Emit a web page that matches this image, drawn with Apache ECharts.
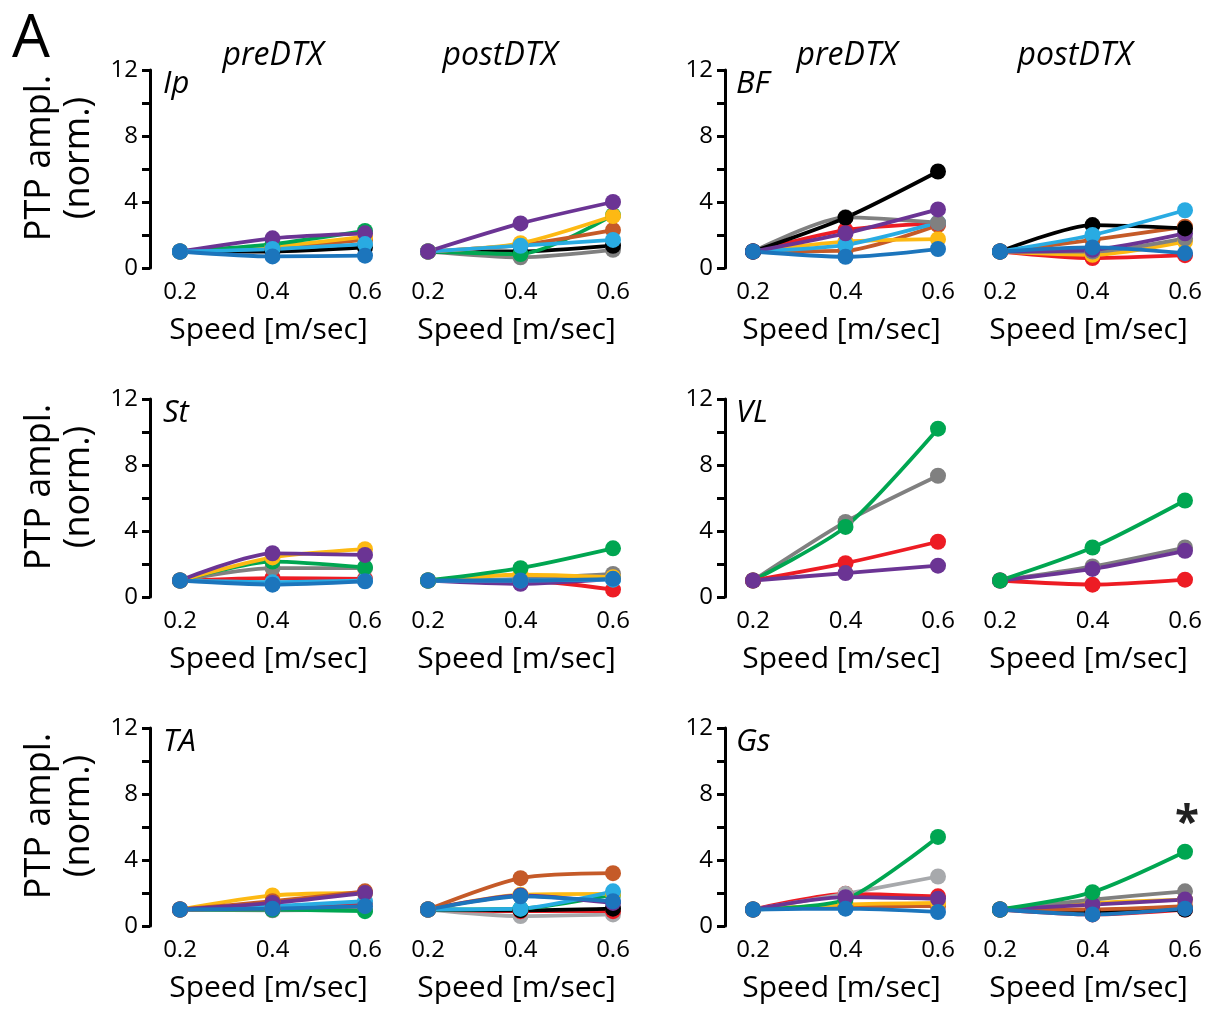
<!DOCTYPE html>
<html><head><meta charset="utf-8">
<script src="https://cdn.jsdelivr.net/npm/echarts@6/dist/echarts.min.js"></script>
<style>html,body{margin:0;padding:0;background:#fff}#c{width:1212px;height:1009px}</style>
</head><body><div id="c"></div>
<script>
// ---------- DATA ----------
const speedTicks = ['0.2', '0.4', '0.6'];
const yTicks = [0, 4, 8, 12];
const muscles = ['Ip', 'BF', 'St', 'VL', 'TA', 'Gs'];
const conditions = ['preDTX', 'postDTX'];
// each entry: [animal, values at 0.2/0.4/0.6 m/s] (listed in drawing order)
const ipPre = [['black',[1,1.0,1.25]],['orange',[1,1.2,1.7]],['yellow',[1,1.3,1.9]],['green',[1,1.45,2.25]],['purple',[1,1.8,2.1]],['lightblue',[1,1.15,1.45]],['darkblue',[1,0.7,0.75]]];
const ipPost = [['gray',[1,0.65,1.1]],['black',[1,1.0,1.35]],['green',[1,0.85,3.2]],['orange',[1,1.4,2.3]],['yellow',[1,1.5,3.15]],['lightblue',[1,1.35,1.7]],['purple',[1,2.7,4.0]]];
const bfPre = [['orange',[1,1.05,2.6]],['yellow',[1,1.6,1.75]],['red',[1,2.3,2.7]],['lightblue',[1,1.4,2.75]],['gray',[1,3.07,2.75]],['black',[1,3.05,5.85]],['purple',[1,2.1,3.55]],['darkblue',[1,0.68,1.15]]];
const bfPost = [['red',[1,0.6,0.78]],['yellow',[1,0.8,1.6]],['gray',[1,1.0,1.8]],['orange',[1,1.7,2.5]],['purple',[1,1.1,2.1]],['black',[1,2.6,2.4]],['lightblue',[1,2.0,3.5]],['darkblue',[1,1.25,0.9]]];
const stPre = [['red',[1,1.15,1.1]],['gray',[1,1.75,1.75]],['lightblue',[1,0.9,1.0]],['green',[1,2.15,1.8]],['yellow',[1,2.4,2.9]],['purple',[1,2.65,2.55]],['darkblue',[1,0.75,0.95]]];
const stPost = [['red',[1,1.0,0.45]],['purple',[1,0.8,1.1]],['gray',[1,1.1,1.4]],['lightblue',[1,1.0,1.05]],['yellow',[1,1.35,1.2]],['green',[1,1.75,2.95]],['darkblue',[1,1.0,1.1]]];
const vlPre = [['gray',[1,4.55,7.35]],['green',[1,4.25,10.2]],['red',[1,2.05,3.35]],['purple',[1,1.45,1.9]]];
const vlPost = [['red',[1,0.75,1.05]],['gray',[1,1.85,3.0]],['purple',[1,1.7,2.8]],['green',[1,3.0,5.85]]];
const taPre = [['gray',[1,0.95,1.0]],['green',[1,1.0,0.9]],['red',[1,1.1,1.4]],['lightblue',[1,1.2,1.5]],['yellow',[1,1.85,2.0]],['orange',[1,1.5,2.1]],['purple',[1,1.4,2.0]],['darkblue',[1,1.05,1.2]]];
const taPost = [['lightgray',[1,0.6,0.7]],['red',[1,0.9,0.9]],['black',[1,0.95,1.05]],['green',[1,1.05,1.9]],['yellow',[1,1.9,1.95]],['purple',[1,1.85,1.4]],['lightblue',[1,1.05,2.1]],['orange',[1,2.9,3.2]],['darkblue',[1,1.8,1.5]]];
const gsPre = [['orange',[1,1.2,1.2]],['yellow',[1,1.3,1.4]],['red',[1,1.95,1.8]],['lightgray',[1,1.95,3.0]],['green',[1,1.6,5.4]],['purple',[1,1.75,1.65]],['darkblue',[1,1.05,0.85]]];
const gsPost = [['red',[1,0.7,1.0]],['black',[1,0.9,1.0]],['orange',[1,1.0,1.2]],['yellow',[1,1.4,1.6]],['gray',[1,1.6,2.1]],['purple',[1,1.3,1.6]],['green',[1,2.05,4.5]],['darkblue',[1,0.7,1.05]]];

// ---------- STYLE / LAYOUT ----------
const COLORS = {black:'#000000', gray:'#808080', lightgray:'#a7a9ac', red:'#ed1c24', orange:'#c55a28',
  yellow:'#fdb913', green:'#00a651', lightblue:'#29abe2', darkblue:'#1c75bc', purple:'#6b3494'};
const FONT = '"Open Sans", "Liberation Sans", sans-serif';
const panelData = [[ipPre, ipPost], [bfPre, bfPost], [stPre, stPost], [vlPre, vlPost], [taPre, taPost], [gsPre, gsPost]];
const colX = [[180, 428], [753, 1000]];
const colW = [185, 185];
const axisOffset = [30, 28];
const rowTop = [70, 399, 728];
const rowH = 198;

const grids = [], xAxes = [], yAxes = [], series = [], graphic = [];
panelData.forEach((pair, p) => {
  const row = Math.floor(p / 2), col = p % 2;
  pair.forEach((lines, k) => {
    const gi = grids.length;
    grids.push({left: colX[col][k], top: rowTop[row], width: colW[col], height: rowH, outerBoundsMode: 'none', containLabel: false});
    xAxes.push({type: 'category', gridIndex: gi, data: speedTicks, boundaryGap: false,
      axisLine: {show: false}, axisTick: {show: false}, splitLine: {show: false},
      axisLabel: {fontSize: 24, color: '#000', fontFamily: FONT, margin: 12, interval: 0},
      name: 'Speed [m/sec]', nameLocation: 'middle', nameGap: 47,
      nameTextStyle: {fontSize: 30, color: '#000', fontFamily: FONT, padding: [0, 8, 0, 0]}});
    yAxes.push({type: 'value', gridIndex: gi, min: yTicks[0], max: yTicks[yTicks.length - 1], interval: 4,
      show: k === 0, offset: axisOffset[col],
      axisLine: {show: true, lineStyle: {color: '#000', width: 3}},
      axisTick: {show: true, length: 8, lineStyle: {width: 3, color: '#000'}},
      minorTick: {show: true, splitNumber: 2, length: 8, lineStyle: {width: 3, color: '#000'}},
      splitLine: {show: false}, minorSplitLine: {show: false},
      axisLabel: {fontSize: 24, color: '#000', fontFamily: FONT, margin: 12}});
    lines.forEach(([animal, vals]) => {
      series.push({type: 'line', xAxisIndex: gi, yAxisIndex: gi, data: vals, smooth: 0.25,
        symbol: 'circle', symbolSize: 16, color: COLORS[animal],
        lineStyle: {width: 3.8, color: COLORS[animal]}, itemStyle: {color: COLORS[animal]},
        animation: false, silent: true, z: 2});
    });
  });
  // muscle label
  graphic.push({type: 'text', x: colX[col][0] - 17, y: rowTop[row] + 14,
    style: {text: muscles[p], font: 'italic 31px ' + FONT, fill: '#000', align: 'left', verticalAlign: 'middle'}});
});
// condition titles
[[273, 500], [847, 1075]].forEach(xs => xs.forEach((x, k) => {
  graphic.push({type: 'text', x: x, y: 56,
    style: {text: conditions[k], font: 'italic 32px ' + FONT, fill: '#000', align: 'center', verticalAlign: 'middle'}});
}));
// y-axis titles
rowTop.forEach(t => {
  const cy = t + 88;
  graphic.push({type: 'text', x: 40, y: cy, rotation: Math.PI / 2,
    style: {text: 'PTP ampl.', font: '36px ' + FONT, fill: '#000', align: 'center', verticalAlign: 'middle'}});
  graphic.push({type: 'text', x: 79, y: cy, rotation: Math.PI / 2,
    style: {text: '(norm.)', font: '36px ' + FONT, fill: '#000', align: 'center', verticalAlign: 'middle'}});
});
graphic.push({type: 'text', x: 31, y: 40, style: {text: 'A', font: '60px ' + FONT, fill: '#000', align: 'center', verticalAlign: 'middle'}});
graphic.push({type: 'text', x: 1187, y: 824, style: {text: '*', font: 'bold 44px ' + FONT, fill: '#222', align: 'center', verticalAlign: 'middle'}});

const chart = echarts.init(document.getElementById('c'), null, {renderer: 'canvas'});
chart.setOption({animation: false, backgroundColor: '#fff', grid: grids, xAxis: xAxes, yAxis: yAxes, series: series, graphic: graphic});
</script></body></html>
